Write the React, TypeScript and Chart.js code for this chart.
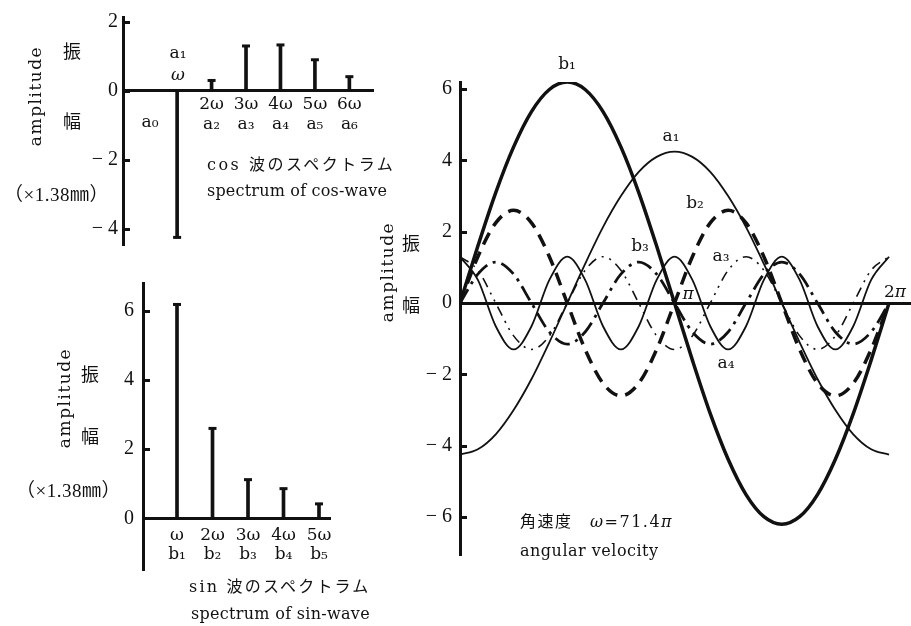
import React, { useEffect, useRef } from 'react';
import { Chart, registerables } from 'chart.js';

Chart.register(...registerables);

// ---------- data: cos-wave spectrum ----------
const cosHarmonic = [1, 2, 3, 4, 5, 6];
const cosAmplitude = [-4.25, 0.3, 1.3, 1.33, 0.9, 0.41];
const cosTickPos = [2, 3, 4, 5, 6];
const cosTickLabels = [
  ['2ω', 'a₂'],
  ['3ω', 'a₃'],
  ['4ω', 'a₄'],
  ['5ω', 'a₅'],
  ['6ω', 'a₆'],
];
const cosYTicks = [-4, -2, 0, 2];

// ---------- data: sin-wave spectrum ----------
const sinHarmonic = [1, 2, 3, 4, 5];
const sinAmplitude = [6.18, 2.6, 1.12, 0.86, 0.42];
const sinTickPos = [1, 2, 3, 4, 5];
const sinTickLabels = [
  ['ω', 'b₁'],
  ['2ω', 'b₂'],
  ['3ω', 'b₃'],
  ['4ω', 'b₄'],
  ['5ω', 'b₅'],
];
const sinYTicks = [0, 2, 4, 6];

// ---------- data: component waves (phase in degrees, read every 15°) ----------
const phaseDeg = [0, 15, 30, 45, 60, 75, 90, 105, 120, 135, 150, 165, 180, 195, 210, 225, 240, 255, 270, 285, 300, 315, 330, 345, 360];
const waveB1 = [0, 1.6, 3.1, 4.38, 5.37, 5.99, 6.2, 5.99, 5.37, 4.38, 3.1, 1.6, 0, -1.6, -3.1, -4.38, -5.37, -5.99, -6.2, -5.99, -5.37, -4.38, -3.1, -1.6, 0];
const waveA1 = [-4.25, -4.1, -3.68, -3.0, -2.13, -1.1, 0, 1.1, 2.13, 3.0, 3.68, 4.1, 4.25, 4.1, 3.68, 3.0, 2.13, 1.1, 0, -1.1, -2.13, -3.0, -3.68, -4.1, -4.25];
const waveB2 = [0, 1.3, 2.25, 2.6, 2.25, 1.3, 0, -1.3, -2.25, -2.6, -2.25, -1.3, 0, 1.3, 2.25, 2.6, 2.25, 1.3, 0, -1.3, -2.25, -2.6, -2.25, -1.3, 0];
const waveB3 = [0, 0.81, 1.15, 0.81, 0, -0.81, -1.15, -0.81, 0, 0.81, 1.15, 0.81, 0, -0.81, -1.15, -0.81, 0, 0.81, 1.15, 0.81, 0, -0.81, -1.15, -0.81, 0];
const waveA3 = [1.3, 0.92, 0, -0.92, -1.3, -0.92, 0, 0.92, 1.3, 0.92, 0, -0.92, -1.3, -0.92, 0, 0.92, 1.3, 0.92, 0, -0.92, -1.3, -0.92, 0, 0.92, 1.3];
const waveA4 = [1.3, 0.65, -0.65, -1.3, -0.65, 0.65, 1.3, 0.65, -0.65, -1.3, -0.65, 0.65, 1.3, 0.65, -0.65, -1.3, -0.65, 0.65, 1.3, 0.65, -0.65, -1.3, -0.65, 0.65, 1.3];
const waveYTicks = [-6, -4, -2, 0, 2, 4, 6];

// ---------- styling ----------
const INK = '#111';
const NUM_FONT = "'Liberation Serif', 'Noto Sans CJK JP', serif";
const TXT_FONT = "'DejaVu Serif', 'Noto Sans CJK JP', serif";
const CJK_FONT = "'Noto Sans CJK JP', 'Noto Sans CJK SC', sans-serif";

const fmtY = (v: number) => (v < 0 ? `− ${-v}` : `${v}`);

const inwardTicks = {
  id: 'inwardTicks',
  afterDraw(chart: any) {
    const s = chart.scales.y;
    const ctx = chart.ctx;
    ctx.save();
    ctx.strokeStyle = INK;
    ctx.lineWidth = 3;
    s.ticks.forEach((t: any) => {
      const y = Math.round(s.getPixelForValue(t.value)) + 0.5;
      ctx.beginPath();
      ctx.moveTo(s.right, y);
      ctx.lineTo(s.right + 7, y);
      ctx.stroke();
    });
    ctx.restore();
  },
};

function yScale(min: number, max: number, ticks: number[], pad: number) {
  return {
    type: 'linear',
    min,
    max,
    afterFit: (s: any) => {
      s.width = 60;
    },
    afterBuildTicks: (s: any) => {
      s.ticks = ticks.map((v) => ({ value: v }));
    },
    grid: { display: true, drawOnChartArea: false, drawTicks: false },
    border: { display: true, width: 3, color: INK },
    ticks: {
      callback: (v: any) => fmtY(Number(v)),
      font: { family: NUM_FONT, size: 20 },
      color: INK,
      padding: pad,
    },
  };
}

function xScale(min: number, max: number, tickPos: number[], labels: any[], pad: number, show: boolean) {
  return {
    type: 'linear',
    position: { y: 0 },
    min,
    max,
    offset: false,
    afterBuildTicks: (s: any) => {
      s.ticks = tickPos.map((v) => ({ value: v }));
    },
    grid: { display: true, drawOnChartArea: false, drawTicks: false },
    border: { display: true, width: 3, color: INK },
    ticks: {
      display: show,
      autoSkip: false,
      maxRotation: 0,
      callback: (_v: any, i: number) => labels[i],
      font: { family: TXT_FONT, size: 17, lineHeight: 1.15 },
      color: INK,
      padding: pad,
    },
  };
}

function stemConfig(xs: number[], ys: number[], opts: any) {
  const pts = xs.map((x, i) => ({ x, y: ys[i] }));
  return {
    type: 'bar',
    data: {
      datasets: [
        { type: 'bar', data: pts, backgroundColor: INK, borderWidth: 0, barThickness: 3 },
        {
          type: 'scatter',
          data: pts,
          pointStyle: 'line',
          pointRadius: 4,
          pointHoverRadius: 4,
          borderWidth: 3,
          borderColor: INK,
        },
      ],
    },
    options: {
      animation: false,
      responsive: true,
      maintainAspectRatio: false,
      layout: { padding: opts.padding },
      plugins: { legend: { display: false }, tooltip: { enabled: false } },
      scales: {
        x: xScale(opts.xMin, opts.xMax, opts.tickPos, opts.tickLabels, opts.xPad, true),
        y: yScale(opts.yMin, opts.yMax, opts.yTicks, opts.yPad),
      },
    },
    plugins: [inwardTicks],
  };
}

function wave(ys: number[], width: number, dash: number[]) {
  return {
    data: phaseDeg.map((x, i) => ({ x, y: ys[i] })),
    borderColor: INK,
    borderWidth: width,
    borderDash: dash,
    pointRadius: 0,
    fill: false,
    tension: 0.4,
    cubicInterpolationMode: 'monotone',
  };
}

const waveConfig = {
  type: 'line',
  data: {
    datasets: [
      wave(waveA3, 1.6, [10, 6, 2, 6, 2, 6]),
      wave(waveA4, 1.8, []),
      wave(waveA1, 1.8, []),
      wave(waveB3, 2.8, [16, 6, 3, 6]),
      wave(waveB2, 3.5, [13, 8]),
      wave(waveB1, 3.5, []),
    ],
  },
  options: {
    animation: false,
    responsive: true,
    maintainAspectRatio: false,
    layout: { padding: { left: 30, right: 1, top: 82, bottom: 71 } },
    plugins: { legend: { display: false }, tooltip: { enabled: false } },
    scales: {
      x: xScale(0, 377.6, [], [], 0, false),
      y: yScale(-7.065, 6.2, waveYTicks, 8),
    },
  },
  plugins: [inwardTicks],
};

function ChartBox({ left, top, width, height, config }: any) {
  const ref = useRef<HTMLCanvasElement | null>(null);
  useEffect(() => {
    if (!ref.current) return;
    const chart = new Chart(ref.current, config);
    return () => chart.destroy();
  }, [config]);
  return (
    <div style={{ position: 'absolute', left, top, width, height }}>
      <canvas ref={ref} />
    </div>
  );
}

function T({ x, y, children, size = 16, family = TXT_FONT, left = false, rotate = 0, ls = 0, italic = false }: any) {
  return (
    <div
      style={{
        position: 'absolute',
        left: x,
        top: y,
        transform: `translate(${left ? '0' : '-50%'}, -50%) rotate(${rotate}deg)`,
        fontFamily: family,
        fontSize: size,
        letterSpacing: ls,
        fontStyle: italic ? 'italic' : 'normal',
        whiteSpace: 'nowrap',
        lineHeight: 1,
        color: INK,
      }}
    >
      {children}
    </div>
  );
}

const cosConfig = stemConfig(cosHarmonic, cosAmplitude, {
  padding: { left: 63, right: 3, top: 12, bottom: 12 },
  xMin: -0.571,
  xMax: 6.686,
  tickPos: cosTickPos,
  tickLabels: cosTickLabels,
  xPad: 4,
  yMin: -4.47,
  yMax: 2.14,
  yTicks: cosYTicks,
  yPad: 5,
});

const sinConfig = stemConfig(sinHarmonic, sinAmplitude, {
  padding: { left: 83, right: 50, top: 13, bottom: 56 },
  xMin: 0.042,
  xMax: 5.31,
  tickPos: sinTickPos,
  tickLabels: sinTickLabels,
  xPad: 7,
  yMin: -1.49,
  yMax: 6.8,
  yTicks: sinYTicks,
  yPad: 9,
});

export default function App() {
  return (
    <div style={{ position: 'fixed', left: 0, top: 0, width: 911, height: 626, background: '#fff', overflow: 'hidden' }}>
      <ChartBox left={0} top={0} width={380} height={262} config={cosConfig} />
      <ChartBox left={0} top={262} width={380} height={364} config={sinConfig} />
      <ChartBox left={370} top={0} width={541} height={626} config={waveConfig} />

      {/* cos spectrum texts */}
      <T x={35} y={96} size={17} rotate={-90} ls={1.5}>amplitude</T>
      <T x={72} y={50} size={18} family={CJK_FONT}>振</T>
      <T x={72} y={120} size={18} family={CJK_FONT}>幅</T>
      <T x={4} y={194} left size={19} family={NUM_FONT} ls={0.5}>（×1.38㎜）</T>
      <T x={178} y={52} size={17}>a₁</T>
      <T x={178} y={74} size={17} italic>ω</T>
      <T x={150} y={121} size={17}>a₀</T>
      <T x={207} y={165} left size={16} ls={2.5}>cos 波のスペクトラム</T>
      <T x={207} y={191} left size={16} ls={0.2}>spectrum of cos-wave</T>

      {/* sin spectrum texts */}
      <T x={64} y={398} size={17} rotate={-90} ls={1.5}>amplitude</T>
      <T x={90} y={373} size={18} family={CJK_FONT}>振</T>
      <T x={90} y={435} size={18} family={CJK_FONT}>幅</T>
      <T x={16} y={490} left size={19} family={NUM_FONT} ls={0.5}>（×1.38㎜）</T>
      <T x={189} y={587} left size={16} ls={2.2}>sin 波のスペクトラム</T>
      <T x={191} y={614} left size={16} ls={0.3}>spectrum of sin-wave</T>

      {/* wave chart texts */}
      <T x={387} y={272} size={17} rotate={-90} ls={1.5}>amplitude</T>
      <T x={411} y={242} size={18} family={CJK_FONT}>振</T>
      <T x={411} y={304} size={18} family={CJK_FONT}>幅</T>
      <T x={567} y={63} size={17}>b₁</T>
      <T x={671} y={135} size={17}>a₁</T>
      <T x={695} y={202} size={17}>b₂</T>
      <T x={640} y={245} size={17}>b₃</T>
      <T x={721} y={255} size={17}>a₃</T>
      <T x={688} y={293} size={17} italic>π</T>
      <T x={895} y={291} size={17}>2<i>π</i></T>
      <T x={726} y={362} size={17}>a₄</T>
      <T x={520} y={522} left size={16} ls={1.5}>角速度　<i>ω</i>=71.4<i>π</i></T>
      <T x={520} y={551} left size={16} ls={0.5}>angular velocity</T>
    </div>
  );
}
